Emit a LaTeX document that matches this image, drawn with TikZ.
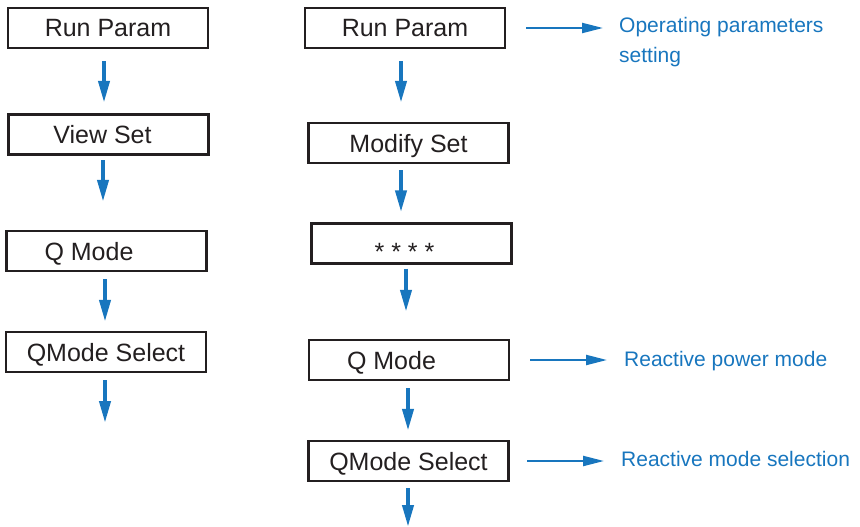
\documentclass[tikz,border=0pt]{standalone}
\usepackage{fontspec}
\setmainfont{Liberation Sans}
\usetikzlibrary{arrows.meta}
\definecolor{azul}{RGB}{24,118,190}
\definecolor{tinta}{RGB}{35,31,32}

\begin{document}
\begin{tikzpicture}[
    x=1pt,
    y=-1pt,
    caja/.style={draw=tinta,line width=2.4pt,minimum width=200pt,minimum height=40pt,
        inner sep=0pt,text=tinta,text height=18pt,text depth=0pt,
        font=\fontsize{25}{30}\selectfont},
    bajada/.style={azul,line width=4pt,-{Triangle[length=22pt,width=11pt]}},
    aviso/.style={azul,line width=2.2pt,-{Triangle[length=21pt,width=10pt]}},
    rotulo/.style={text=azul,inner sep=0pt,align=left,anchor=base west,
        font=\fontsize{21}{30}\selectfont}
]
    \useasboundingbox (0,0) rectangle (860,527);

    % Columna izquierda: consulta
    \node[caja] (lrun)  at (108,28)      {Run Param};
    \node[caja] (lview) at (108.5,134.5) {View Set\kern12pt};
    \node[caja] (lq)    at (106.5,251)   {Q Mode\kern35pt};
    \node[caja] (lsel)  at (106,352)     {QMode Select};
    \coordinate (lfin) at (105,423);

    \draw[bajada] ([xshift=-4pt,yshift=-12pt]lrun.south) -- ([xshift=-4.5pt,yshift=10.5pt]lview.north);
    \draw[bajada] ([xshift=-5.5pt,yshift=-4.5pt]lview.south) -- ([xshift=-3.5pt,yshift=28pt]lq.north);
    \draw[bajada] ([xshift=-1.5pt,yshift=-7pt]lq.south) -- ([xshift=-1pt,yshift=9pt]lsel.north);
    \draw[bajada] ([xshift=-1pt,yshift=-7pt]lsel.south) -- (lfin);

    % Columna derecha: modificacion
    \node[caja] (rrun) at (405,28)      {Run Param};
    \node[caja] (rmod) at (408.5,143)   {Modify Set};
    \node[caja] (rpin) at (411.5,243.5) {\raisebox{-7.5pt}{* * * *}\kern14pt};
    \node[caja] (rq)   at (409,360)     {Q Mode\kern35pt};
    \node[caja] (rsel) at (408.5,461)   {QMode Select};
    \coordinate (rfin) at (408,527);

    \draw[bajada] ([xshift=-4pt,yshift=-12pt]rrun.south) -- ([xshift=-7.5pt,yshift=19pt]rmod.north);
    \draw[bajada] ([xshift=-7.5pt,yshift=-6pt]rmod.south) -- ([xshift=-10.5pt,yshift=10pt]rpin.north);
    \draw[bajada] ([xshift=-5.5pt,yshift=-4pt]rpin.south) -- ([xshift=-3pt,yshift=27pt]rq.north);
    \draw[bajada] ([xshift=-1pt,yshift=-7pt]rq.south) -- ([xshift=-0.5pt,yshift=9pt]rsel.north);
    \draw[bajada] ([xshift=-0.5pt,yshift=-6pt]rsel.south) -- (rfin);

    % Notas en azul
    \node[rotulo] (nrun) at (619,63)  {Operating parameters\\setting};
    \node[rotulo] (nq)   at (624,366) {Reactive power mode};
    \node[rotulo] (nsel) at (621,466) {Reactive mode selection};

    \draw[aviso,shorten >=16pt] ([xshift=20pt]rrun.east) -- (rrun.east -| nrun.west);
    \draw[aviso,shorten >=17pt] ([xshift=20pt]rq.east) -- (rq.east -| nq.west);
    \draw[aviso,shorten >=17pt] ([xshift=17.5pt]rsel.east) -- (rsel.east -| nsel.west);
\end{tikzpicture}
\end{document}
